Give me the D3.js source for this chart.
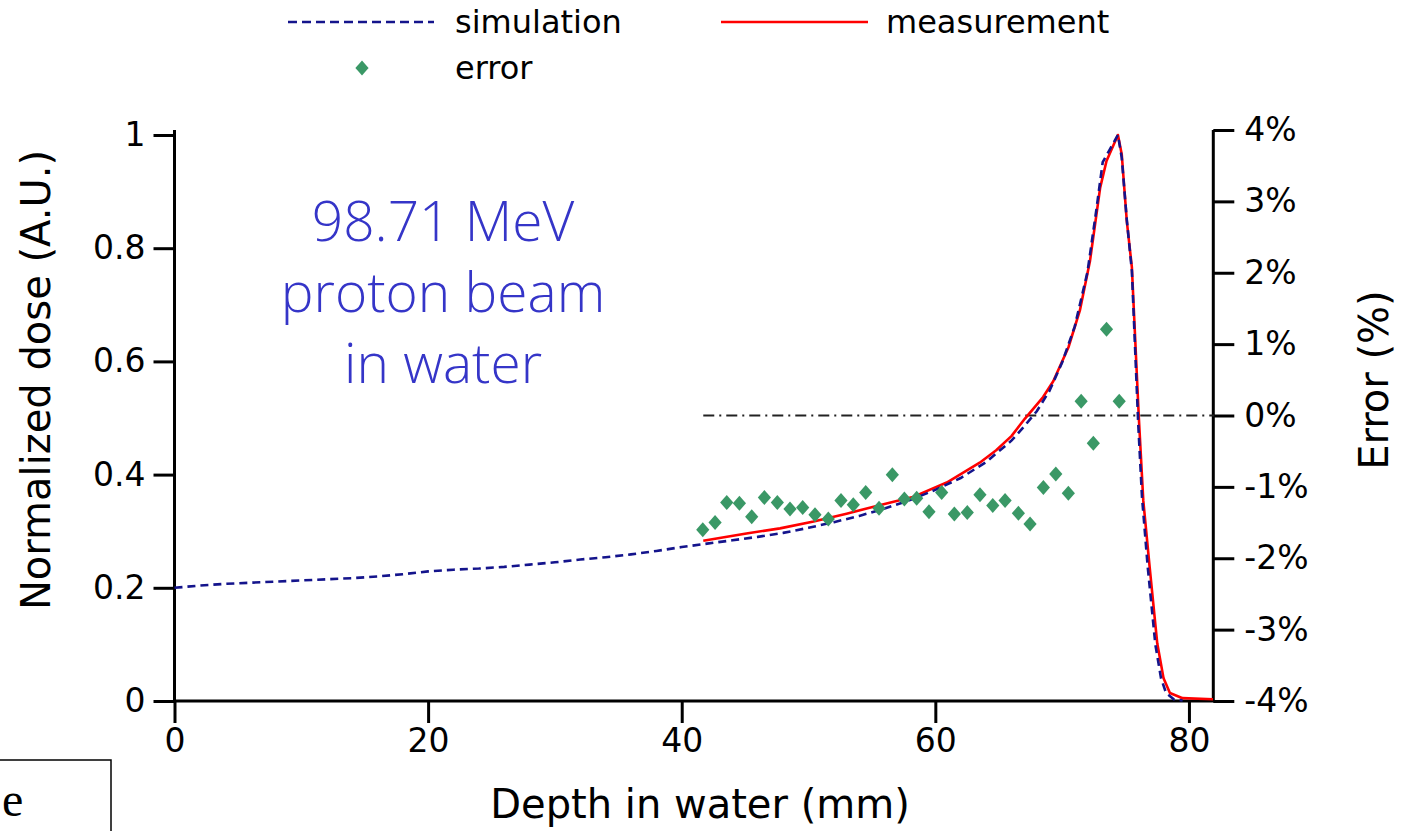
<!DOCTYPE html>
<html>
<head>
<meta charset="utf-8">
<script src="https://cdn.jsdelivr.net/npm/d3@7"></script>
<style>
  html, body { margin: 0; padding: 0; background: #fff; }
  svg { display: block; }
</style>
</head>
<body>
<svg id="chart" width="1402" height="831"></svg>
<script>
// ---------------- data ----------------
const simDepth = [0, 2, 4, 6, 8, 10, 12, 14, 16, 18, 20, 22, 24, 26, 28, 30, 32, 34, 36, 38, 40, 42, 44, 46, 48, 50, 52, 54, 56, 58, 60, 62, 64, 66, 67, 68, 69, 70, 71, 72, 72.7, 73.2, 73.7, 74.4, 74.7, 75.1, 75.5, 76.0, 76.3, 76.75, 77.35, 77.8, 78.2, 78.8, 79.5];
const simDose  = [0.200, 0.204, 0.207, 0.209, 0.211, 0.213, 0.215, 0.217, 0.220, 0.224, 0.229, 0.232, 0.234, 0.237, 0.241, 0.245, 0.250, 0.254, 0.259, 0.265, 0.272, 0.278, 0.284, 0.290, 0.297, 0.306, 0.316, 0.327, 0.340, 0.355, 0.373, 0.394, 0.422, 0.460, 0.485, 0.512, 0.548, 0.598, 0.662, 0.758, 0.868, 0.952, 0.972, 1.000, 0.960, 0.850, 0.760, 0.490, 0.360, 0.237, 0.100, 0.040, 0.014, 0.003, 0.001];

const measDepth = [41.7, 45.1, 47.75, 50.4, 53.0, 55.6, 58.3, 60.9, 63.5, 64.8, 66.0, 67.07, 68.5, 69.3, 70.5, 71.4, 72.2, 73.0, 73.5, 74.4, 74.7, 75.1, 75.5, 76.05, 76.4, 76.9, 77.5, 78.0, 78.5, 79.5, 81.9];
const measDose  = [0.283, 0.296, 0.305, 0.317, 0.331, 0.346, 0.361, 0.386, 0.421, 0.443, 0.468, 0.499, 0.537, 0.565, 0.625, 0.690, 0.778, 0.907, 0.954, 1.000, 0.966, 0.848, 0.766, 0.500, 0.354, 0.237, 0.102, 0.040, 0.014, 0.005, 0.003];

const errDepth = [41.66, 42.63, 43.55, 44.55, 45.52, 46.52, 47.54, 48.54, 49.54, 50.51, 51.56, 52.56, 53.53, 54.51, 55.56, 56.61, 57.56, 58.53, 59.5, 60.5, 61.5, 62.52, 63.52, 64.53, 65.5, 66.55, 67.47, 68.52, 69.5, 70.49, 71.5, 72.46, 73.5, 74.5];
const errPct   = [-1.60, -1.50, -1.22, -1.23, -1.42, -1.15, -1.22, -1.31, -1.29, -1.39, -1.45, -1.19, -1.25, -1.08, -1.30, -0.83, -1.17, -1.16, -1.35, -1.08, -1.38, -1.36, -1.11, -1.26, -1.19, -1.37, -1.52, -1.01, -0.82, -1.09, 0.20, -0.39, 1.21, 0.20];

const zeroLineFrom = 41.7;

const xTicks = [0, 20, 40, 60, 80];
const yTicks = [0, 0.2, 0.4, 0.6, 0.8, 1];
const yTickLabels = ["0", "0.2", "0.4", "0.6", "0.8", "1"];
const errTicks = [4, 3, 2, 1, 0, -1, -2, -3, -4];
const errTickLabels = ["4%", "3%", "2%", "1%", "0%", "-1%", "-2%", "-3%", "-4%"];

const legendItems = ["simulation", "measurement", "error"];
const annotationLines = ["98.71 MeV", "proton beam", "in water"];

// ---------------- layout ----------------
const svg = d3.select("#chart");
const FONT = "DejaVu Sans, Verdana, sans-serif";
const x = d3.scaleLinear().domain([0, 82]).range([174.5, 1214.3]);
const y = d3.scaleLinear().domain([0, 1]).range([701, 135]);
const yE = d3.scaleLinear().domain([-4, 4]).range([701, 130]);

const NAVY = "#14148c", RED = "#ff0000", GREEN = "#3a9866";

// ---------------- axes ----------------
const axisStroke = 3;
function styleAxis(g) {
  g.selectAll("path.domain").attr("stroke", "#000").attr("stroke-width", axisStroke);
  g.selectAll(".tick line").attr("stroke", "#000").attr("stroke-width", axisStroke);
  g.selectAll(".tick text").attr("fill", "#000").style("font-family", FONT).style("font-size", "33px");
}

// bottom axis
const gx = svg.append("g").attr("transform", `translate(0,${y(0)})`)
  .call(d3.axisBottom(x).tickValues(xTicks).tickFormat(d3.format("d")).tickSize(22).tickSizeOuter(0).tickPadding(6));
styleAxis(gx);
gx.select("path.domain").attr("d", `M${x(0)},0H${x(82)}`);

// left axis
const gy = svg.append("g").attr("transform", `translate(${x(0)},0)`)
  .call(d3.axisLeft(y).tickValues(yTicks).tickFormat((d, i) => yTickLabels[i]).tickSize(21).tickSizeOuter(0).tickPadding(8));
styleAxis(gy);
gy.select("path.domain").attr("d", `M0,130V${y(0)}`);

// right axis
const gr = svg.append("g").attr("transform", `translate(${x(82) - 1},0)`)
  .call(d3.axisRight(yE).tickValues(errTicks).tickFormat((d, i) => errTickLabels[i]).tickSize(21).tickSizeOuter(0).tickPadding(10));
styleAxis(gr);
gr.select("path.domain").attr("d", `M0,${yE(4)}V${yE(-4)}`);

// axis titles
svg.append("text").attr("x", 700).attr("y", 818).attr("text-anchor", "middle")
  .style("font-family", FONT).style("font-size", "40px").text("Depth in water (mm)");
svg.append("text").attr("transform", "translate(50,380) rotate(-90)").attr("text-anchor", "middle")
  .style("font-family", FONT).style("font-size", "40px").text("Normalized dose (A.U.)");
svg.append("text").attr("transform", "translate(1388,380) rotate(-90)").attr("text-anchor", "middle")
  .style("font-family", FONT).style("font-size", "40px").text("Error (%)");

// ---------------- marks ----------------
// zero error reference line (dash-dot)
svg.append("line")
  .attr("x1", x(zeroLineFrom)).attr("x2", x(82)).attr("y1", yE(0)).attr("y2", yE(0))
  .attr("stroke", "#222").attr("stroke-width", 2).attr("stroke-dasharray", "11,5,2,5");

const line = d3.line().x(d => x(d[0])).y(d => y(d[1]));

svg.append("path").datum(measDepth.map((d, i) => [d, measDose[i]]))
  .attr("d", line).attr("fill", "none").attr("stroke", RED).attr("stroke-width", 2.6).attr("stroke-linejoin", "round");

svg.append("path").datum(simDepth.map((d, i) => [d, simDose[i]]))
  .attr("d", line).attr("fill", "none").attr("stroke", NAVY).attr("stroke-width", 2.6)
  .attr("stroke-dasharray", "8,5");

const diamond = "M0,-7.5L6.6,0L0,7.5L-6.6,0Z";
svg.append("g").selectAll("path").data(errDepth.map((d, i) => [d, errPct[i]])).join("path")
  .attr("d", diamond).attr("fill", GREEN)
  .attr("transform", d => `translate(${x(d[0])},${yE(d[1])})`);

// ---------------- legend ----------------
const lg = svg.append("g").style("font-family", FONT).style("font-size", "32px");
lg.append("line").attr("x1", 288).attr("x2", 434).attr("y1", 22).attr("y2", 22)
  .attr("stroke", NAVY).attr("stroke-width", 2.6).attr("stroke-dasharray", "9,5");
lg.append("text").attr("x", 455).attr("y", 33).text(legendItems[0]);
lg.append("line").attr("x1", 721).attr("x2", 868).attr("y1", 22).attr("y2", 22)
  .attr("stroke", RED).attr("stroke-width", 2.6);
lg.append("text").attr("x", 886).attr("y", 33).text(legendItems[1]);
lg.append("path").attr("d", diamond).attr("fill", GREEN).attr("transform", "translate(362,68)");
lg.append("text").attr("x", 455).attr("y", 79).text(legendItems[2]);

// ---------------- annotation ----------------
const ann = svg.append("text").attr("text-anchor", "middle")
  .style("font-family", "Open Sans, Lato, sans-serif").style("font-weight", 300)
  .style("font-size", "55px").attr("fill", "#3535c8");
annotationLines.forEach((t, i) => {
  ann.append("tspan").attr("x", 443).attr("y", 241 + i * 71).text(t);
});

// ---------------- cropped slide box (bottom-left) ----------------
svg.append("rect").attr("x", -10).attr("y", 760).attr("width", 121).attr("height", 100)
  .attr("fill", "none").attr("stroke", "#000").attr("stroke-width", 1.5);
svg.append("text").attr("x", 2).attr("y", 816)
  .style("font-family", "Liberation Serif, serif").style("font-size", "48px").text("e");
</script>
</body>
</html>
